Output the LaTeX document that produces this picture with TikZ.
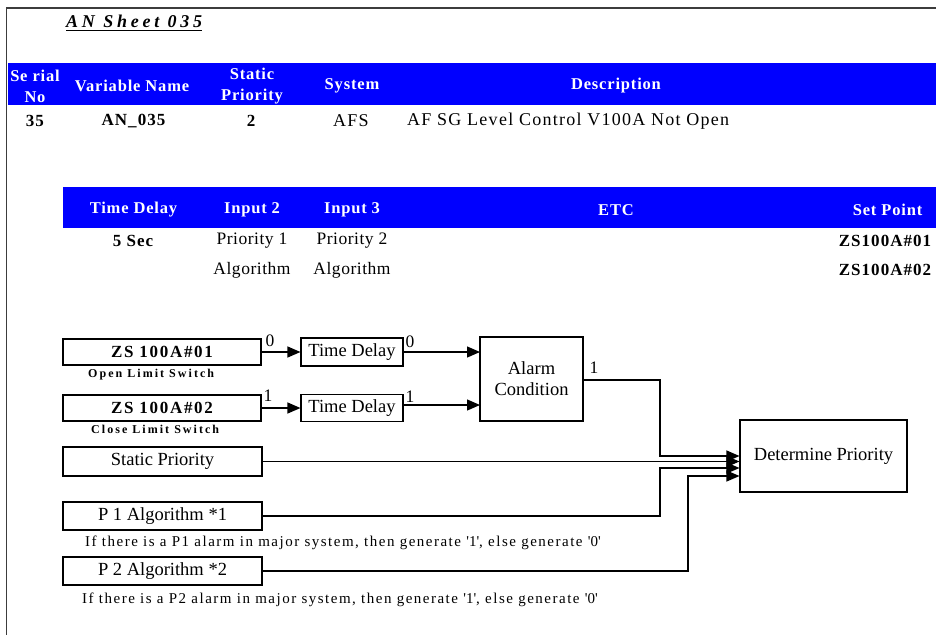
\documentclass[tikz,border=0pt]{standalone}
\usepackage{fontspec}
\setmainfont{Liberation Serif}
\usetikzlibrary{arrows.meta}
\definecolor{hblue}{RGB}{0,0,255}
\definecolor{framec}{RGB}{60,60,60}
\newcommand\fTitle{\fontsize{18}{20}\selectfont\bfseries\itshape\addfontfeatures{LetterSpace=21}}
\newcommand\fHdr{\fontsize{16.5}{21}\selectfont\bfseries\addfontfeatures{LetterSpace=5}}
\newcommand\fDatB{\fontsize{17}{21}\selectfont\bfseries\addfontfeatures{LetterSpace=6}}
\newcommand\fDat{\fontsize{17.5}{21}\selectfont\addfontfeatures{LetterSpace=3}}
\newcommand\fDesc{\fontsize{18}{21}\selectfont\addfontfeatures{LetterSpace=7}}
\newcommand\fBox{\fontsize{18.5}{21}\selectfont}
\newcommand\fBoxB{\fontsize{17}{21}\selectfont\bfseries\addfontfeatures{LetterSpace=10}}
\newcommand\fSmall{\fontsize{12}{14}\selectfont\bfseries\addfontfeatures{LetterSpace=17}}
\newcommand\fNote{\fontsize{15}{17}\selectfont\addfontfeatures{LetterSpace=10}}
\newcommand\sq{\textquotesingle}
\begin{document}
\begin{tikzpicture}[x=1pt,y=-1pt,
  hdr/.style={font=\fHdr,text=white,inner sep=0pt,align=center},
  datb/.style={font=\fDatB,inner sep=0pt},
  dat/.style={font=\fDat,inner sep=0pt},
  blk/.style={draw,line width=1.1pt,inner sep=0pt,font=\fBox,align=center},
  sml/.style={font=\fSmall,inner sep=0pt,anchor=west},
  note/.style={font=\fNote,inner sep=0pt,anchor=west},
  bit/.style={font=\fDat,inner sep=0pt},
  con/.style={line width=1.2pt},
  arr/.style={con,-{Triangle[length=13pt,width=11pt]}}]
\useasboundingbox (0,0) rectangle (936,635);
% frame
\coordinate (fr1) at (936,8);
\coordinate (fr2) at (6.5,8);
\coordinate (fr3) at (6.5,635);
\draw[line width=1.5pt,framec] (fr1) -- (fr2) -- (fr3);
% title
\node[font=\fTitle,inner sep=0pt,anchor=base west] (title) at (66,27) {AN Sheet 035};
\draw[line width=0.9pt] ([yshift=-3.5pt]title.base west) -- ([yshift=-3.5pt]title.base east);
% header bar 1
\fill[hblue] (7.5,63) rectangle (936,105);
\node[hdr] (h1) at (35,86) {Se rial\\No};
\node[hdr] (h2) at (132,86) {Variable Name};
\node[hdr] (h3) at (252,86) {Static\\Priority};
\node[hdr] (h4) at (352,86) {System};
\node[hdr] (h5) at (616,86) {Description};
% row 1
\node[datb] (d1) at (35,121) {35};
\node[datb] (d2) at (133.5,121) {AN\_035};
\node[datb] (d3) at (251,121) {2};
\node[dat,font=\fDesc] (d4) at (351,121) {AFS};
\node[dat,font=\fDesc,anchor=west] (d5) at (407,121) {AF SG Level Control V100A Not Open};
% header bar 2
\fill[hblue] (63,187) rectangle (936,228);
\node[hdr] (t1) at (133.5,210) {Time Delay};
\node[hdr] (t2) at (252,210) {Input 2};
\node[hdr] (t3) at (352,210) {Input 3};
\node[hdr] (t4) at (616,210) {ETC};
\node[hdr] (t5) at (887.5,210) {Set Point};
% rows 2
\node[datb] (r1) at (133,241) {5 Sec};
\node[dat] (r2) at (252,241) {Priority 1};
\node[dat] (r3) at (352,241) {Priority 2};
\node[datb] (r4) at (885,241) {ZS100A\#01};
\node[dat] (r5) at (252,270) {Algorithm};
\node[dat] (r6) at (352,270) {Algorithm};
\node[datb] (r7) at (885,270) {ZS100A\#02};
% diagram blocks
\node[blk,font=\fBoxB,minimum width=198pt,minimum height=26pt] (zs1) at (162,352) {ZS 100A\#01};
\node[blk,font=\fBoxB,minimum width=198pt,minimum height=26pt] (zs2) at (162,408) {ZS 100A\#02};
\node[sml] (lz1) at (88,375) {Open Limit Switch};
\node[sml] (lz2) at (91,429) {Close Limit Switch};
\node[blk,minimum width=102pt,minimum height=28pt] (td1) at (352,352) {Time Delay};
\node[blk,minimum width=102pt,minimum height=27pt] (td2) at (352,408) {Time Delay};
\node[blk,minimum width=103pt,minimum height=84pt] (al) at (531.5,379) {Alarm\\Condition};
\node[blk,minimum width=167pt,minimum height=72pt] (dp) at (823.5,456) {Determine Priority};
\node[blk,minimum width=199pt,minimum height=29pt] (sp) at (162.5,461.5) {Static Priority};
\node[blk,minimum width=199pt,minimum height=28pt] (p1) at (162.5,516) {P 1 Algorithm *1};
\node[blk,minimum width=199pt,minimum height=28pt] (p2) at (162.5,571) {P 2 Algorithm *2};
\node[note] (n1) at (85,543) {If there is a P1 alarm in major system, then generate \sq1\sq, else generate \sq0\sq};
\node[note] (n2) at (82,600) {If there is a P2 alarm in major system, then generate \sq1\sq, else generate \sq0\sq};
% connectors
\draw[arr] (zs1.east) -- (td1.west);
\draw[arr] (zs2.east) -- (td2.west);
\coordinate (a1) at (480,352);
\coordinate (a2) at (480,405);
\draw[arr] (td1.east |- a1) -- (a1);
\draw[arr] (td2.east |- a2) -- (a2);
\coordinate (b0) at (583,380);
\coordinate (b1) at (660,456);
\coordinate (b2) at (660,468);
\coordinate (b3) at (688,476);
\draw[arr] (b0) -| (b1) -- (b1 -| dp.west);
\draw[arr] (sp.east) -- (sp.east -| dp.west);
\draw[arr] (p1.east) -| (b2) -- (b2 -| dp.west);
\draw[arr] (p2.east) -| (b3) -- (b3 -| dp.west);
% bit labels
\node[bit] (l1) at (270,341) {0};
\node[bit] (l2) at (268,396) {1};
\node[bit] (l3) at (410,342) {0};
\node[bit] (l4) at (410,397) {1};
\node[bit] (l5) at (594,368) {1};
\end{tikzpicture}
\end{document}
